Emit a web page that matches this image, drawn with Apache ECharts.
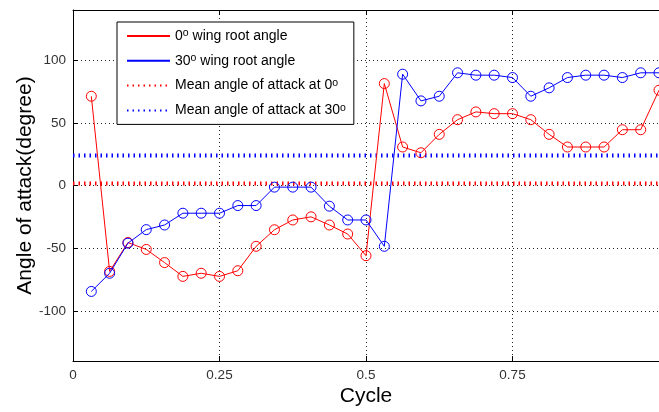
<!DOCTYPE html>
<html>
<head>
<meta charset="utf-8">
<script src="https://cdn.jsdelivr.net/npm/echarts@6/dist/echarts.min.js"></script>
<style>
html,body{margin:0;padding:0;background:#fff;}
#chart{width:659px;height:412px;}
</style>
</head>
<body>
<div id="chart"></div>
<script>
// Data
var cycle = [0.03125, 0.0625, 0.09375, 0.125, 0.15625, 0.1875, 0.21875, 0.25,
             0.28125, 0.3125, 0.34375, 0.375, 0.40625, 0.4375, 0.46875, 0.5,
             0.53125, 0.5625, 0.59375, 0.625, 0.65625, 0.6875, 0.71875, 0.75,
             0.78125, 0.8125, 0.84375, 0.875, 0.90625, 0.9375, 0.96875, 1.0];
var root0 = [71.2, -68.5, -45.5, -51, -61.5, -72.5, -70, -72.5,
             -68, -48.5, -35.3, -27.5, -25, -31.5, -38.7, -56,
             81.3, 30.7, 26.1, 40.8, 52.5, 58.7, 57.3, 57.3,
             52.5, 40.8, 30.7, 30.7, 30.7, 44.5, 44.5, 76];
var root30 = [-84.5, -70, -46, -35.2, -31.5, -22.1, -22.1, -22.1,
              -16, -16, -1.3, -1.3, -1.3, -16.5, -27.5, -27.5,
              -48.5, 88.8, 67.5, 71.2, 89.9, 88, 88, 86.1,
              71.2, 77.9, 86.1, 88, 88, 86.1, 89.9, 89.9];
var meanX = [0, 1];
var mean0 = [1.6, 1.6];
var mean30 = [24, 24];
var xTicks = [0, 0.25, 0.5, 0.75, 1];
var xTickLabels = [0, 0.25, 0.5, 0.75];
var yTicks = [-100, -50, 0, 50, 100];

var names = ['0o wing root angle', '30o wing root angle', 'Mean angle of attack at 0o', 'Mean angle of attack at 30o'];
var legendText = {
  '0o wing root angle': '0{s|o} wing root angle',
  '30o wing root angle': '30{s|o} wing root angle',
  'Mean angle of attack at 0o': 'Mean angle of attack at 0{s|o}',
  'Mean angle of attack at 30o': 'Mean angle of attack at 30{s|o}'
};

function pairs(xs, ys) {
  var out = [];
  for (var i = 0; i < xs.length; i++) out.push([xs[i], ys[i]]);
  return out;
}

var FONT = 'Liberation Sans, Arial, Helvetica, sans-serif';
var chart = echarts.init(document.getElementById('chart'), null, {renderer: 'canvas'});
chart.setOption({
  animation: false,
  backgroundColor: '#fff',
  textStyle: {fontFamily: FONT},
  grid: {left: 73, top: 10, width: 589, height: 352, containLabel: false},
  xAxis: [{
    type: 'value', min: 0, max: 1, position: 'bottom',
    name: 'Cycle', nameLocation: 'middle', nameGap: 25, nameMoveOverlap: false,
    nameTextStyle: {fontSize: 21, color: '#000', fontFamily: FONT},
    axisLine: {show: true, onZero: false, lineStyle: {color: '#000', width: 1}},
    axisTick: {show: true, inside: true, length: 5, customValues: xTicks, lineStyle: {color: '#000'}},
    axisLabel: {customValues: xTickLabels, fontSize: 13.5, color: '#333', margin: 7, fontFamily: FONT},
    splitLine: {show: true, lineStyle: {color: '#222', width: 1, type: [1, 3]}}
  }, {
    type: 'value', min: 0, max: 1, position: 'top',
    axisLine: {show: true, onZero: false, lineStyle: {color: '#000', width: 1}},
    axisTick: {show: true, inside: true, length: 5, customValues: xTicks, lineStyle: {color: '#000'}},
    axisLabel: {show: false},
    splitLine: {show: false}
  }],
  yAxis: [{
    type: 'value', min: -140, max: 140,
    name: 'Angle of attack(degree)', nameLocation: 'middle', nameGap: 37, nameMoveOverlap: false,
    nameTextStyle: {fontSize: 21, color: '#000', fontFamily: FONT},
    axisLine: {show: true, onZero: false, lineStyle: {color: '#000', width: 1}},
    axisTick: {show: true, inside: true, length: 5, customValues: yTicks, lineStyle: {color: '#000'}},
    axisLabel: {customValues: yTicks, fontSize: 13.5, color: '#333', margin: 7, fontFamily: FONT},
    splitLine: {show: true, lineStyle: {color: '#222', width: 1, type: [1, 3]}}
  }],
  legend: {
    orient: 'vertical',
    left: 117, top: 22,
    padding: [6, 8, 6, 9],
    itemWidth: 43, itemHeight: 14, itemGap: 8.8,
    backgroundColor: '#fff',
    borderColor: '#000', borderWidth: 1,
    borderRadius: 0,
    itemStyle: {opacity: 0},
    data: names,
    formatter: function (n) { return legendText[n]; },
    textStyle: {
      fontSize: 14, color: '#000', fontFamily: FONT, lineHeight: 16,
      rich: {s: {fontSize: 10.5, lineHeight: 16, verticalAlign: 'top', color: '#000', fontFamily: FONT, padding: [0, 0, 5, 0]}}
    }
  },
  series: [{
    name: names[0], type: 'line', data: pairs(cycle, root0),
    symbol: 'circle', symbolSize: 10,
    lineStyle: {color: '#ff0000', width: 1},
    itemStyle: {color: 'rgba(255,0,0,0)', borderColor: '#ff0000', borderWidth: 1},
    z: 3
  }, {
    name: names[1], type: 'line', data: pairs(cycle, root30),
    symbol: 'circle', symbolSize: 10,
    lineStyle: {color: '#0000ff', width: 1},
    itemStyle: {color: 'rgba(0,0,255,0)', borderColor: '#0000ff', borderWidth: 1},
    z: 4
  }, {
    name: names[2], type: 'line', data: pairs(meanX, mean0),
    symbol: 'none',
    lineStyle: {color: '#ff0000', width: 4, type: [1.5, 4]},
    itemStyle: {color: '#ff0000'},
    z: 2
  }, {
    name: names[3], type: 'line', data: pairs(meanX, mean30),
    symbol: 'none',
    lineStyle: {color: '#0000ff', width: 4, type: [1.5, 4]},
    itemStyle: {color: '#0000ff'},
    z: 2
  }]
});
</script>
</body>
</html>
